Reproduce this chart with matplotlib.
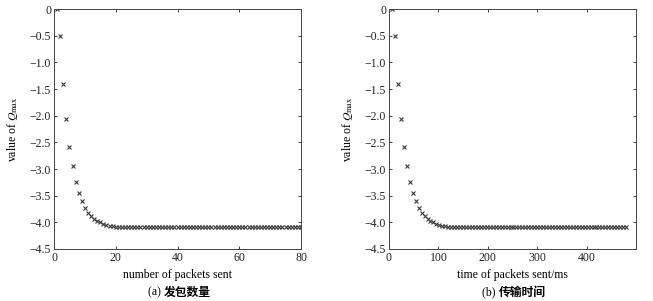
import matplotlib
matplotlib.use("Agg")
import matplotlib.pyplot as plt
import numpy as np

packets = list(range(1, 81))
q_head = [0.0, -0.5, -1.4, -2.07, -2.58, -2.94, -3.24, -3.45, -3.60, -3.73,
          -3.82, -3.88, -3.93, -3.97, -4.00, -4.03, -4.05, -4.06, -4.07, -4.08,
          -4.085, -4.09]
q_values = q_head + [-4.09] * (80 - len(q_head))
time_ms = [6 * n for n in packets]

yticks = [0, -0.5, -1.0, -1.5, -2.0, -2.5, -3.0, -3.5, -4.0, -4.5]
ytick_labels = ["0"] + ["\u2212%.1f" % abs(v) for v in yticks[1:]]

plt.rcParams['font.family'] = ['Liberation Serif', 'Noto Sans CJK SC']
plt.rcParams['mathtext.fontset'] = 'stix'

fig = plt.figure(figsize=(6.53, 3.01), dpi=100)
W, H = 653, 301

def make_ax(left, xs, xlim, xticks, xlabel, tag, caption):
    ax = fig.add_axes([left / W, 1 - 249 / H, 247 / W, 240 / H])
    ax.plot(xs, q_values, linestyle='none', marker='x', markersize=2.6,
            markeredgewidth=0.8, color='#3a3a3a')
    ax.set_xlim(*xlim)
    ax.set_ylim(-4.5, 0)
    ax.set_xticks(xticks)
    ax.set_xticklabels([str(t) for t in xticks], fontsize=8.5)
    ax.set_yticks(yticks)
    ax.set_yticklabels(ytick_labels, fontsize=8.5)
    ax.tick_params(direction='in', top=True, right=True, length=2.5, width=0.6,
                   pad=2, colors='#222222')
    for s in ax.spines.values():
        s.set_linewidth(0.7)
        s.set_color('#444444')
    ax.set_ylabel(r"value of $Q_{\max}$", fontsize=8.5, labelpad=7)
    ax.set_xlabel(xlabel, fontsize=8.5, labelpad=4)
    split = (left + 123.5 - 14) / W
    cy = 1 - 292 / H
    fig.text(split, cy, tag + " ", ha='right', va='center', fontsize=8.5)
    fig.text(split, cy, caption, ha='left', va='center', fontsize=8.5,
             family=['Noto Sans CJK SC'], weight='bold')
    return ax

make_ax(54, packets, (0, 80), [0, 20, 40, 60, 80], "number of packets sent",
        "(a)", "发包数量")
make_ax(389, time_ms, (0, 500), [0, 100, 200, 300, 400],
        "time of packets sent/ms", "(b)", "传输时间")

fig.savefig("out.png", dpi=100, facecolor='white')
